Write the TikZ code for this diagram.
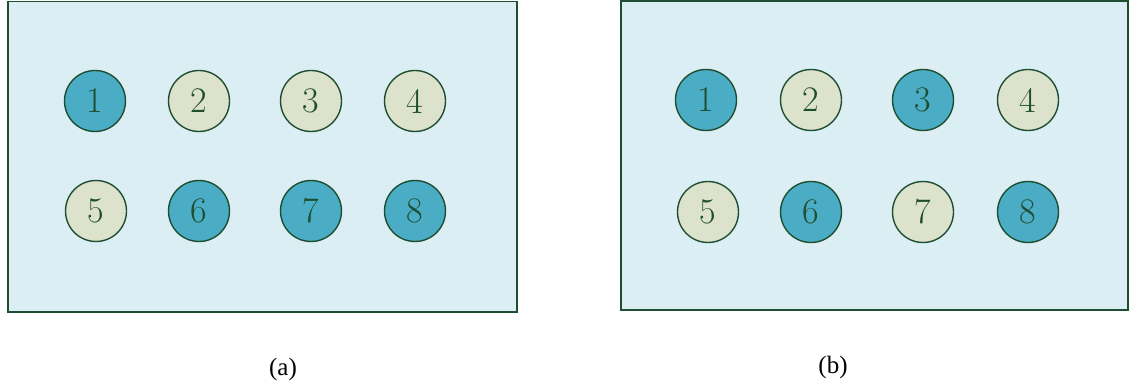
\documentclass[tikz,border=0pt]{standalone}
\usepackage{fontspec}
\newfontfamily\timesf{Liberation Serif}
\definecolor{edgec}{RGB}{30,78,48}
\definecolor{bluec}{RGB}{75,172,198}
\definecolor{beigec}{RGB}{221,226,204}
\definecolor{bgc}{RGB}{219,238,243}
\begin{document}
\begin{tikzpicture}[x=1pt,y=-1pt,
  panel/.style={draw=edgec, fill=bgc, line width=1.6pt},
  ball/.style={circle, draw=edgec, line width=1.4pt, minimum size=61pt, inner sep=0pt, text=edgec, font=\fontsize{36}{38}\selectfont},
  bl/.style={ball, fill=bluec},
  bg/.style={ball, fill=beigec},
  caplabel/.style={font=\timesf\fontsize{25}{27}\selectfont, text=black}]
\useasboundingbox (0,0) rectangle (1129,390);
% panel (a)
\draw[panel] (8,1.5) rectangle (517,312);
\node[bl] (a1) at (95,101) {1};
\node[bg] (a2) at (199,101) {2};
\node[bg] (a3) at (311,101) {3};
\node[bg] (a4) at (415,101) {4};
\node[bg] (a5) at (96,211) {5};
\node[bl] (a6) at (199,211) {6};
\node[bl] (a7) at (311,211) {7};
\node[bl] (a8) at (415,211) {8};
\node[caplabel] (capa) at (283,369) {(a)};
% panel (b)
\draw[panel] (621,0.8) rectangle (1128,310);
\node[bl] (b1) at (706,100) {1};
\node[bg] (b2) at (811,100) {2};
\node[bl] (b3) at (923,100) {3};
\node[bg] (b4) at (1028,100) {4};
\node[bg] (b5) at (708,212) {5};
\node[bl] (b6) at (811,212) {6};
\node[bg] (b7) at (923,212) {7};
\node[bl] (b8) at (1028,212) {8};
\node[caplabel] (capb) at (833,367) {(b)};
\end{tikzpicture}
\end{document}
